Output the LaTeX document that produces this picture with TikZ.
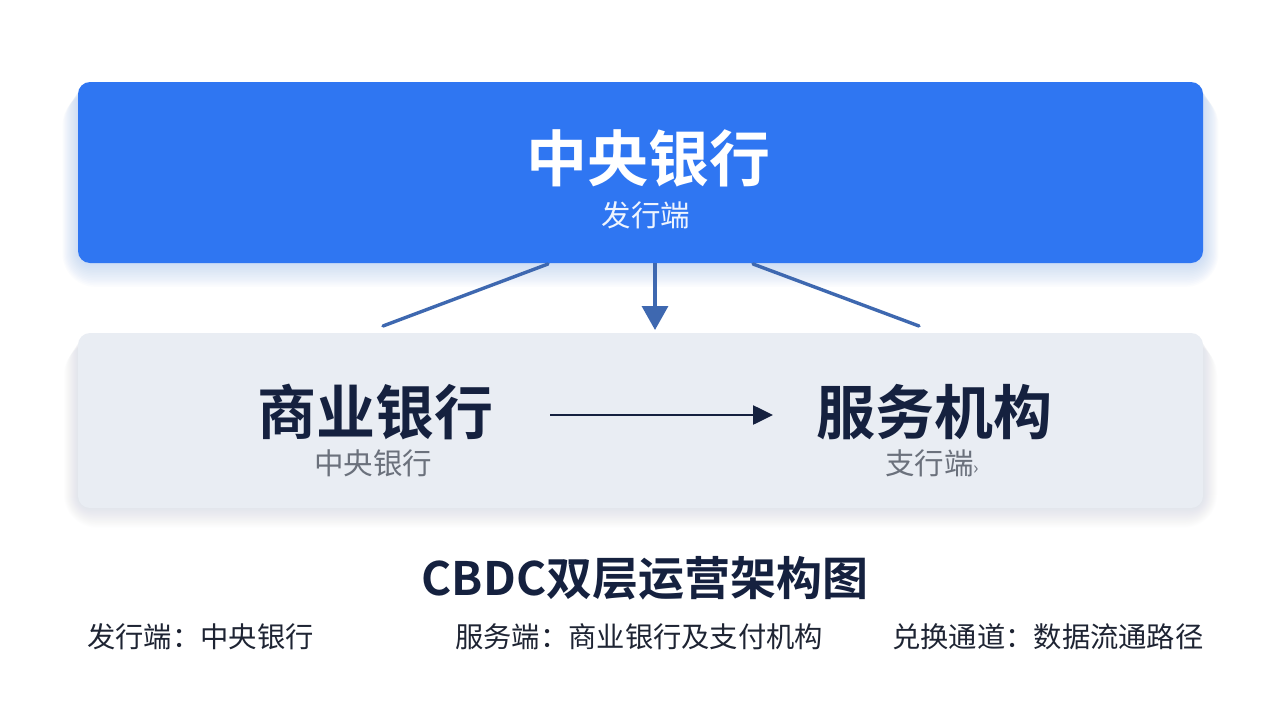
\documentclass[tikz,border=0pt]{standalone}
\usepackage{fontspec}
\setmainfont{Noto Sans CJK SC}
\newfontfamily\cjkb{Noto Sans CJK SC Bold}
\usetikzlibrary{arrows.meta}
\definecolor{topblue}{HTML}{2F76F2}
\definecolor{midgray}{HTML}{E9EDF3}
\definecolor{navy}{HTML}{15213F}
\definecolor{linkblue}{HTML}{3E68B0}
\definecolor{subgray}{HTML}{6B717C}
\definecolor{legendtxt}{HTML}{1E2433}
\definecolor{glowblue}{HTML}{8FB4F5}
\definecolor{glowgray}{HTML}{B8C0CC}
\tikzset{
  panel/.style={rounded corners=12pt, minimum width=1125pt, inner sep=0pt},
  headtxt/.style={font=\cjkb\fontsize{59}{64}\selectfont, inner sep=0pt},
  subtxt/.style={font=\fontsize{29.5}{32}\selectfont, inner sep=0pt},
  legend/.style={font=\fontsize{28.3}{30}\selectfont, text=legendtxt, inner sep=0pt, anchor=west},
  link/.style={draw=linkblue, line width=3.4pt},
}
\begin{document}
\begin{tikzpicture}[x=1pt,y=-1pt]
\useasboundingbox[fill=white] (0,0) rectangle (1280,720);
% soft shadows
\foreach \k in {1,...,14}{
  \fill[glowblue, opacity=0.03, rounded corners={12pt+1.5pt*\k}]
    (78-1.1*\k,84+0.6*\k) rectangle (1203+1.1*\k,263+1.7*\k);
  \fill[glowgray, opacity=0.025, rounded corners={12pt+1.5pt*\k}]
    (78-1.0*\k,335+0.5*\k) rectangle (1203+1.0*\k,508+1.4*\k);
}
% panels
\node[panel, fill=topblue, minimum height=181pt] (central) at (640.5,172.5) {};
\node[panel, fill=midgray, minimum height=175pt] (tier) at (640.5,420.5) {};
% texts in top panel
\node[headtxt, font=\cjkb\fontsize{61}{66}\selectfont, text=white] (cbname) at (648,158) {中央银行};
\node[subtxt, text=white!92!topblue] (cbsub) at (646,215) {发行端};
% texts in middle panel
\node[headtxt, text=navy] (bank) at (375,412) {商业银行};
\node[subtxt, text=subgray] (banksub) at (373,463) {中央银行};
\node[headtxt, text=navy] (serv) at (934,412) {服务机构};
\node[subtxt, text=subgray] (servsub) at (932,463) {支行端\fontsize{18}{20}\selectfont{}›};
% connectors
\coordinate (lA) at (548,264);
\coordinate (lB) at (383,326);
\coordinate (rA) at (753,264);
\coordinate (rB) at (919,326);
\coordinate (mA) at (655,263);
\coordinate (mB) at (655,330);
\coordinate (hA) at (550,415);
\coordinate (hB) at (773,415);
\draw[link, line cap=round] (lA) -- (lB);
\draw[link, line cap=round] (rA) -- (rB);
\draw[link, -{Triangle[length=24pt,width=26pt]}] (mA) -- (mB);
\draw[draw=navy, line width=2.6pt, -{Triangle[length=20pt,width=19pt]}] (hA) -- (hB);
% title
\node[font=\cjkb\fontsize{46}{50}\selectfont, text=navy, inner sep=0pt] (title) at (645,578) {CBDC双层运营架构图};
% legend
\node[legend] (leg1) at (87,637) {发行端：中央银行};
\node[legend] (leg2) at (455,637) {服务端：商业银行及支付机构};
\node[legend] (leg3) at (892,637) {兑换通道：数据流通路径};
\end{tikzpicture}
\end{document}
